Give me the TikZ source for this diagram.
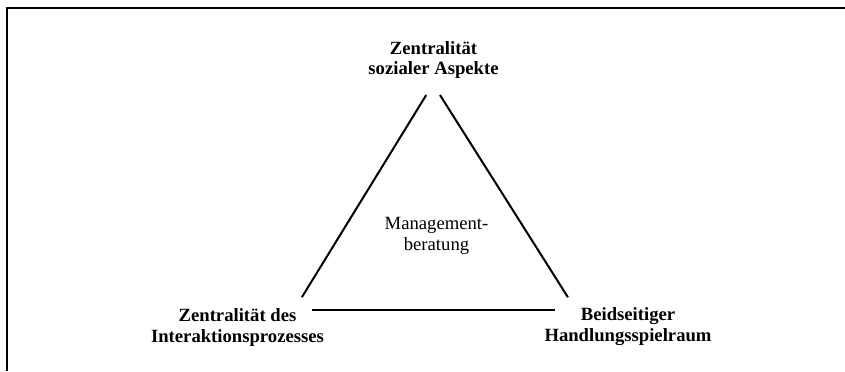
\documentclass[tikz,border=0pt]{standalone}
\usepackage{fontspec}
\setmainfont{Liberation Serif}
\begin{document}
\begin{tikzpicture}[x=0.75pt,y=-0.75pt,
  lbl/.style={inner sep=0pt,align=center,font=\fontsize{14}{15.6}\selectfont\bfseries},
  midlbl/.style={inner sep=0pt,align=center,font=\fontsize{14}{15.2}\selectfont},
  edge/.style={line width=1.5pt},
  frameline/.style={line width=2pt}]
\useasboundingbox (0,0) rectangle (845,371);
% frame (top and left only)
\coordinate (FTL) at (7,8);
\coordinate (FTR) at (845,8);
\coordinate (FBL) at (7,371);
\draw[frameline] (FTR) -- (FTL) -- (FBL);
% triangle vertices
\coordinate (T) at (433,84);
\coordinate (L) at (294,310);
\coordinate (R) at (576,310);
% labels
\node[lbl] (top) at (433.5,60) {Zentralität\\sozialer Aspekte};
\node[lbl] (left) at (237.5,327.5) {Zentralität des\\Interaktionsprozesses};
\node[lbl] (right) at (628,326.5) {Beidseitiger\\Handlungsspielraum};
\node[midlbl] (mid) at (436.5,236) {Management-\\beratung};
% edges
\draw[edge,shorten <=13pt*0.75,shorten >=15pt*0.75] (T) -- (L);
\draw[edge,shorten <=13pt*0.75,shorten >=15pt*0.75] (T) -- (R);
\draw[edge,shorten <=18pt*0.75,shorten >=21pt*0.75] (L) -- (R);
\end{tikzpicture}
\end{document}
